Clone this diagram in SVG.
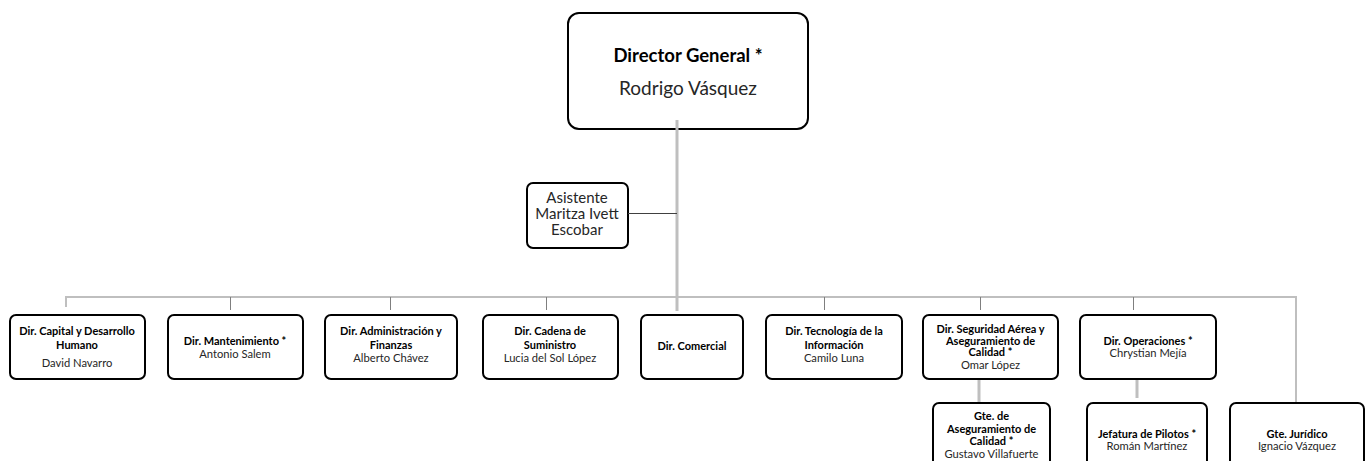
<svg xmlns="http://www.w3.org/2000/svg" width="1371" height="461" viewBox="0 0 1371 461">
<style>
.box{fill:#ffffff;stroke:#000000;stroke-width:2}
.t{font-family:Lato,"Liberation Sans",sans-serif;fill:#000000;text-anchor:middle}
.b{font-weight:bold;font-size:11px}
.n{font-size:11.2px;fill:#262626}
.a{font-size:15px;fill:#262626}
.main{stroke:#BFBFBF;stroke-width:3;fill:none}
.bus{stroke:#BFBFBF;stroke-width:2;fill:none}
.tick{stroke:#7F7F7F;stroke-width:1;fill:none}
.thin{stroke:#404040;stroke-width:1;fill:none}
</style>
<rect width="1371" height="461" fill="#ffffff"/>
<g id="nodes-boxes">
<g id="director">
<rect class="box" x="568" y="13" width="240" height="116" rx="11"/>
<text class="t" x="688" y="62" style="font-weight:bold;font-size:18.5px">Director General *</text>
<text class="t" x="688" y="94.5" style="font-size:19px;fill:#262626">Rodrigo Vásquez</text>
</g>
<g id="asistente">
<rect class="box" x="527" y="183" width="101" height="65" rx="6"/>
<text class="t a" x="577" y="203">Asistente</text>
<text class="t a" x="577" y="219">Maritza Ivett</text>
<text class="t a" x="577" y="235">Escobar</text>
</g>
</g>
<g id="connectors">
<line class="main" x1="677" y1="120" x2="677" y2="311"/>
<line class="thin" x1="628" y1="213.5" x2="677" y2="213.5"/>
<polyline class="bus" points="66,307 66,297 1296,297 1296,402"/>
<line class="tick" x1="230.5" y1="297" x2="230.5" y2="310"/>
<line class="tick" x1="390.5" y1="297" x2="390.5" y2="310"/>
<line class="tick" x1="546.5" y1="297" x2="546.5" y2="310"/>
<line class="tick" x1="824.5" y1="297" x2="824.5" y2="310"/>
<line class="tick" x1="980.5" y1="297" x2="980.5" y2="310"/>
<line class="tick" x1="1133.5" y1="297" x2="1133.5" y2="310"/>
<line class="main" x1="979" y1="379" x2="979" y2="402"/>
<line class="main" x1="1137" y1="368" x2="1137" y2="398"/>
</g>
<g id="n1">
<rect class="box" x="10" y="315" width="135" height="64" rx="6"/>
<text class="t b" x="77" y="335">Dir. Capital y Desarrollo</text>
<text class="t b" x="77" y="348.5">Humano</text>
<text class="t n" x="77" y="367">David Navarro</text>
</g>
<g id="n2">
<rect class="box" x="168" y="315" width="135" height="64" rx="6"/>
<text class="t b" x="235" y="345">Dir. Mantenimiento *</text>
<text class="t n" x="235" y="357.5">Antonio Salem</text>
</g>
<g id="n3">
<rect class="box" x="325" y="315" width="132" height="64" rx="6"/>
<text class="t b" x="391" y="335">Dir. Administración y</text>
<text class="t b" x="391" y="348.5">Finanzas</text>
<text class="t n" x="391" y="361.5">Alberto Chávez</text>
</g>
<g id="n4">
<rect class="box" x="483" y="315" width="135" height="64" rx="6"/>
<text class="t b" x="550" y="335">Dir. Cadena de</text>
<text class="t b" x="550" y="348.5">Suministro</text>
<text class="t n" x="550" y="361.5">Lucia del Sol López</text>
</g>
<g id="n5">
<rect class="box" x="641" y="315" width="102" height="64" rx="6"/>
<text class="t b" x="692" y="350">Dir. Comercial</text>
</g>
<g id="n6">
<rect class="box" x="766" y="315" width="136" height="64" rx="6"/>
<text class="t b" x="834" y="335">Dir. Tecnología de la</text>
<text class="t b" x="834" y="348.5">Información</text>
<text class="t n" x="834" y="361.5">Camilo Luna</text>
</g>
<g id="n7">
<rect class="box" x="923" y="315" width="135" height="64" rx="6"/>
<text class="t b" x="990.5" y="332.5">Dir. Seguridad Aérea y</text>
<text class="t b" x="990.5" y="344.5">Aseguramiento de</text>
<text class="t b" x="990.5" y="356">Calidad *</text>
<text class="t n" x="990.5" y="368.5">Omar López</text>
</g>
<g id="n8">
<rect class="box" x="1080" y="315" width="136" height="64" rx="6"/>
<text class="t b" x="1148" y="344.5">Dir. Operaciones *</text>
<text class="t n" x="1148" y="357">Chrystian Mejía</text>
</g>
<g id="n9">
<rect class="box" x="933" y="403" width="117" height="70" rx="6"/>
<text class="t b" x="991.5" y="420">Gte. de</text>
<text class="t b" x="991.5" y="433">Aseguramiento de</text>
<text class="t b" x="991.5" y="445">Calidad *</text>
<text class="t n" x="991.5" y="457.5">Gustavo Villafuerte</text>
</g>
<g id="n10">
<rect class="box" x="1087" y="403" width="120" height="70" rx="6"/>
<text class="t b" x="1147" y="437.5">Jefatura de Pilotos *</text>
<text class="t n" x="1147" y="449.5">Román Martínez</text>
</g>
<g id="n11">
<rect class="box" x="1230" y="403" width="134" height="70" rx="6"/>
<text class="t b" x="1297" y="437.5">Gte. Jurídico</text>
<text class="t n" x="1297" y="449.5">Ignacio Vázquez</text>
</g>
</svg>
